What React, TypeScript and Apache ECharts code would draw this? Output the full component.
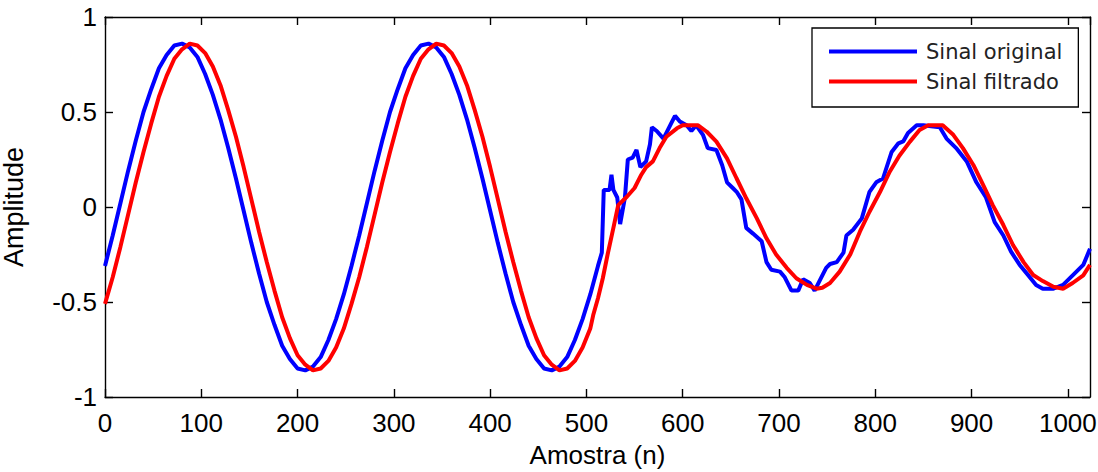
import React, { useEffect, useRef } from "react";
import * as echarts from "echarts";

// Sample index (n) and amplitude of the original signal
const originalN = [
  0, 8, 16, 24, 32, 40, 48, 56, 64, 72, 80, 88, 96, 104, 112, 120, 128, 136, 144, 152, 160, 168, 176, 184, 192, 200,
  208, 216, 224, 232, 240, 248, 256, 264, 272, 280, 288, 296, 304, 312, 320, 328, 336, 344, 352, 360, 368, 376, 384,
  392, 400, 408, 416, 424, 432, 440, 448, 456, 464, 472, 480, 488, 496, 504, 512,
  516, 518, 524, 526, 528, 532, 535, 540, 543, 548, 552, 556, 562, 566, 568, 573, 580, 585, 588, 592, 597, 604, 609,
  614, 621, 626, 635, 641, 646, 652, 656, 661, 666, 673, 682, 687, 692, 701, 706, 713, 720, 725, 732, 737, 742, 749,
  753, 760, 767, 770, 777, 786, 794, 801, 808, 817, 824, 829, 834, 843, 850, 858, 867, 874, 884, 895, 905, 915, 924,
  933, 941, 950, 959, 967, 974, 985, 995, 1005, 1016, 1023,
];
const originalAmp = [
  -0.31, -0.15, 0.02, 0.19, 0.35, 0.5, 0.62, 0.73, 0.8, 0.85, 0.86, 0.84, 0.79, 0.7, 0.59, 0.46, 0.31, 0.15, -0.02,
  -0.19, -0.35, -0.5, -0.62, -0.73, -0.8, -0.85, -0.86, -0.84, -0.79, -0.7, -0.59, -0.46,
  -0.31, -0.15, 0.02, 0.19, 0.35, 0.5, 0.62, 0.73, 0.8, 0.85, 0.86, 0.84, 0.79, 0.7, 0.59, 0.46, 0.31, 0.15, -0.02,
  -0.19, -0.35, -0.5, -0.62, -0.73, -0.8, -0.85, -0.86, -0.84, -0.79, -0.7, -0.59, -0.46, -0.31,
  -0.24, 0.09, 0.09, 0.17, 0.09, 0.05, -0.09, 0.05, 0.25, 0.26, 0.3, 0.21, 0.24, 0.33, 0.42, 0.4, 0.36, 0.41, 0.44,
  0.48, 0.45, 0.43, 0.4, 0.43, 0.38, 0.31, 0.3, 0.22, 0.13, 0.1, 0.08, 0.04, -0.11, -0.14, -0.18, -0.29, -0.33, -0.34,
  -0.37, -0.44, -0.44, -0.38, -0.4, -0.44, -0.39, -0.32, -0.3, -0.29, -0.24, -0.15, -0.12, -0.06, 0.08, 0.13, 0.15,
  0.29, 0.335, 0.345, 0.39, 0.43, 0.43, 0.425, 0.42, 0.36, 0.31, 0.24, 0.13, 0.05, -0.08, -0.15, -0.235, -0.305,
  -0.36, -0.41, -0.43, -0.43, -0.41, -0.36, -0.305, -0.22,
];

// Sample index (n) and amplitude of the filtered signal
const filteredN = [
  0, 8, 16, 24, 32, 40, 48, 56, 64, 72, 80, 88, 96, 104, 112, 120, 128, 136, 144, 152, 160, 168, 176, 184, 192, 200,
  208, 216, 224, 232, 240, 248, 256, 264, 272, 280, 288, 296, 304, 312, 320, 328, 336, 344, 352, 360, 368, 376, 384,
  392, 400, 408, 416, 424, 432, 440, 448, 456, 464, 472, 480, 488, 496, 504,
  507, 512, 517, 522, 528, 533, 542, 550, 557, 562, 569, 576, 583, 594, 600, 616, 625, 635, 646, 656, 666, 677, 687,
  697, 708, 718, 729, 739, 745, 753, 763, 774, 784, 794, 805, 815, 825, 836, 846, 855, 870, 881, 891, 902, 912, 922,
  933, 943, 954, 964, 974, 985, 995, 1005, 1016, 1023,
];
const filteredAmp = [
  -0.51, -0.37, -0.21, -0.04, 0.13, 0.29, 0.44, 0.58, 0.69, 0.78, 0.83, 0.86, 0.85, 0.81, 0.74, 0.64, 0.51, 0.37,
  0.21, 0.04, -0.13, -0.29, -0.44, -0.58, -0.69, -0.78, -0.83, -0.86, -0.85, -0.81, -0.74, -0.64,
  -0.51, -0.37, -0.21, -0.04, 0.13, 0.29, 0.44, 0.58, 0.69, 0.78, 0.83, 0.86, 0.85, 0.81, 0.74, 0.64, 0.51, 0.37,
  0.21, 0.04, -0.13, -0.29, -0.44, -0.58, -0.69, -0.78, -0.83, -0.86, -0.85, -0.81, -0.74, -0.64,
  -0.57, -0.48, -0.375, -0.25, -0.11, 0.01, 0.054, 0.1, 0.17, 0.21, 0.24, 0.31, 0.37, 0.414, 0.43, 0.43, 0.396, 0.344,
  0.256, 0.15, 0.046, -0.06, -0.165, -0.25, -0.32, -0.375, -0.41, -0.43, -0.425, -0.4, -0.34, -0.25, -0.13, -0.025,
  0.08, 0.186, 0.27, 0.344, 0.405, 0.43, 0.43, 0.38, 0.31, 0.22, 0.116, 0.01, -0.095, -0.2, -0.29, -0.358, -0.39,
  -0.42, -0.43, -0.4, -0.36, -0.305,
];

const seriesNames = ["Sinal original", "Sinal filtrado"];
const xTicks = [0, 100, 200, 300, 400, 500, 600, 700, 800, 900, 1000];
const yTicks = [-1, -0.5, 0, 0.5, 1];

const FONT = "'Liberation Sans', Arial, Helvetica, sans-serif";

export default function App() {
  const ref = useRef<HTMLDivElement>(null);

  useEffect(() => {
    if (!ref.current) return;
    const chart = echarts.init(ref.current, undefined, { renderer: "svg" });

    const toPairs = (xs: number[], ys: number[]) => xs.map((x, i) => [x, ys[i]]);
    const axisLine = { show: true, onZero: false, lineStyle: { color: "#000", width: 1.4 } };
    const tick = { show: true, inside: true, length: 8, lineStyle: { color: "#000", width: 1.4 } };

    chart.setOption({
      animation: false,
      backgroundColor: "#fff",
      grid: { left: 105, right: 8, top: 17, bottom: 75, containLabel: false, outerBoundsMode: "none" },
      legend: {
        orient: "vertical",
        left: 812,
        top: 28,
        data: seriesNames.map((name) => ({ name, icon: "rect" })),
        backgroundColor: "#fff",
        borderColor: "#000",
        borderWidth: 1.3,
        padding: [13, 16, 15, 17],
        itemGap: 9,
        itemWidth: 88,
        itemHeight: 4,
        textStyle: {
          fontFamily: "'DejaVu Sans', sans-serif",
          fontSize: 21,
          color: "#222",
          padding: [0, 0, 0, 4],
        },
      },
      xAxis: [
        {
          type: "value",
          min: xTicks[0],
          max: 1023,
          interval: 100,
          name: "Amostra (n)",
          nameLocation: "middle",
          nameGap: 45,
          nameTextStyle: { fontFamily: FONT, fontSize: 26, color: "#000" },
          axisLine,
          axisTick: tick,
          splitLine: { show: false },
          axisLabel: {
            fontFamily: FONT,
            fontSize: 26,
            color: "#000",
            margin: 13,
            showMaxLabel: false,
            formatter: (v: number) => (xTicks.includes(v) ? String(v) : ""),
          },
        },
        {
          type: "value",
          position: "top",
          min: xTicks[0],
          max: 1023,
          interval: 100,
          axisLine,
          axisTick: tick,
          splitLine: { show: false },
          axisLabel: { show: false },
        },
      ],
      yAxis: [
        {
          type: "value",
          min: yTicks[0],
          max: yTicks[yTicks.length - 1],
          interval: 0.5,
          name: "Amplitude",
          nameLocation: "middle",
          nameRotate: 90,
          nameGap: 78,
          nameTextStyle: { fontFamily: FONT, fontSize: 27, color: "#000" },
          axisLine,
          axisTick: tick,
          splitLine: { show: false },
          axisLabel: { fontFamily: FONT, fontSize: 26, color: "#000", margin: 8 },
        },
        {
          type: "value",
          position: "right",
          min: yTicks[0],
          max: yTicks[yTicks.length - 1],
          interval: 0.5,
          axisLine,
          axisTick: tick,
          splitLine: { show: false },
          axisLabel: { show: false },
        },
      ],
      series: [
        {
          name: seriesNames[0],
          type: "line",
          xAxisIndex: 0,
          yAxisIndex: 0,
          data: toPairs(originalN, originalAmp),
          showSymbol: false,
          symbol: "none",
          color: "#0000ff",
          lineStyle: { color: "#0000ff", width: 4 },
        },
        {
          name: seriesNames[1],
          type: "line",
          xAxisIndex: 0,
          yAxisIndex: 0,
          data: toPairs(filteredN, filteredAmp),
          showSymbol: false,
          symbol: "none",
          color: "#ff0000",
          lineStyle: { color: "#ff0000", width: 4 },
        },
      ],
    });

    return () => chart.dispose();
  }, []);

  return (
    <div
      ref={ref}
      style={{ position: "fixed", left: 0, top: 0, width: 1098, height: 472, background: "#fff" }}
    />
  );
}
